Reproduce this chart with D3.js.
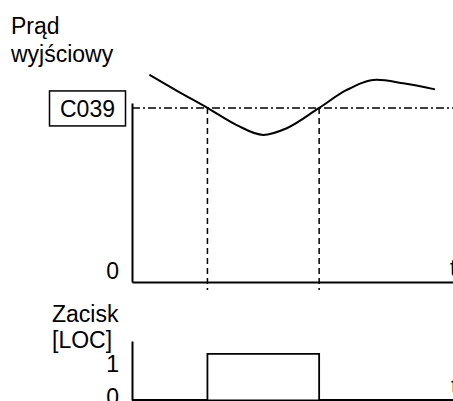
<!DOCTYPE html>
<html>
<head>
<meta charset="utf-8">
<script src="https://cdn.jsdelivr.net/npm/d3@7"></script>
<style>
  html, body { margin: 0; padding: 0; background: #fff; }
  svg { display: block; }
  text { font-family: "Liberation Sans", Arial, sans-serif; font-size: 23px; fill: #000; }
</style>
</head>
<body>
<svg id="chart" width="453" height="401"></svg>
<script>
// Output current over time (t, current) – arbitrary units
const currentT = [0.54, 1.43, 2.35, 3.26, 4.09, 4.82, 5.83, 6.69, 7.62, 8.45, 9.44];
const currentV = [71.4, 65.7, 60.0, 54.1, 50.7, 53.0, 60.0, 66.2, 69.7, 68.5, 66.4];

// Threshold C039 and the moments the current crosses it
const thresholdLabel = "C039";
const thresholdValue = 60;
const crossings = [2.35, 5.83];

// LOC terminal state (step signal)
const locT = [0, 2.35, 5.83, 10];
const locV = [0, 1, 0, 0];

// Tick labels
const topTicks = [0];
const bottomTicks = [0, 1];

const topTitle = ["Prąd", "wyjściowy"];
const bottomTitle = ["Zacisk", "[LOC]"];
const timeLabel = "t";

const svg = d3.select("#chart");

// Scales
const x = d3.scaleLinear().domain([0, 10]).range([132, 453]);
const yTop = d3.scaleLinear().domain([0, 61.7]).range([282, 103]);
const yBot = d3.scaleLinear().domain([0, 1.28]).range([400, 341]);

// ---- Top panel: output current ----
const topAxisY = svg.append("g")
  .attr("transform", `translate(${x(0)},0)`)
  .call(d3.axisLeft(yTop).tickValues(topTicks).tickSize(0).tickSizeOuter(0).tickPadding(13).tickFormat(d3.format("d")));
topAxisY.select(".domain").attr("stroke-width", 2);
topAxisY.selectAll("text").attr("font-size", null).attr("font-family", null).attr("dy", "-3.5px");

const topAxisX = svg.append("g")
  .attr("transform", `translate(0,${yTop(0)})`)
  .call(d3.axisBottom(x).tickValues([]).tickSizeOuter(0));
topAxisX.select(".domain").attr("stroke-width", 2);

// Threshold line (dash-dot)
svg.append("line")
  .attr("x1", x(0)).attr("x2", x(10))
  .attr("y1", yTop(thresholdValue)).attr("y2", yTop(thresholdValue))
  .attr("stroke", "#000").attr("stroke-width", 1.5)
  .attr("stroke-dasharray", "8,3,2,3");

// Threshold label box
const boxG = svg.append("g");
boxG.append("rect")
  .attr("x", 49.5).attr("y", yTop(thresholdValue) - 17)
  .attr("width", 76).attr("height", 35)
  .attr("fill", "none").attr("stroke", "#000").attr("stroke-width", 1.5);
boxG.append("text")
  .attr("x", 87.5).attr("y", yTop(thresholdValue) + 9)
  .attr("text-anchor", "middle")
  .text(thresholdLabel);

// Dashed verticals at crossings
svg.selectAll("line.cross").data(crossings).join("line")
  .attr("class", "cross")
  .attr("x1", d => x(d)).attr("x2", d => x(d))
  .attr("y1", yTop(thresholdValue)).attr("y2", yTop(0) + 8)
  .attr("stroke", "#000").attr("stroke-width", 1.5)
  .attr("stroke-dasharray", "6,4");

// Current curve
const currentData = currentT.map((t, i) => [t, currentV[i]]);
svg.append("path")
  .datum(currentData)
  .attr("fill", "none").attr("stroke", "#000").attr("stroke-width", 2)
  .attr("d", d3.line().x(d => x(d[0])).y(d => yTop(d[1])).curve(d3.curveMonotoneX));

// Titles
svg.append("text").attr("x", 11).attr("y", 34).text(topTitle[0]);
svg.append("text").attr("x", 11).attr("y", 62).text(topTitle[1]);
svg.append("text").attr("x", 450).attr("y", yTop(0) - 6).text(timeLabel);

// ---- Bottom panel: LOC terminal ----
const botAxisY = svg.append("g")
  .attr("transform", `translate(${x(0)},0)`)
  .call(d3.axisLeft(yBot).tickValues(bottomTicks).tickSize(0).tickSizeOuter(0).tickPadding(13).tickFormat(d3.format("d")));
botAxisY.select(".domain").attr("stroke-width", 2);
botAxisY.selectAll("text")
  .attr("font-size", null).attr("font-family", null)
  .attr("dy", d => d === 1 ? "18px" : "4.5px");

const botAxisX = svg.append("g")
  .attr("transform", `translate(0,${yBot(0)})`)
  .call(d3.axisBottom(x).tickValues([]).tickSizeOuter(0));
botAxisX.select(".domain").attr("stroke-width", 2);

const locData = locT.map((t, i) => [t, locV[i]]);
svg.append("path")
  .datum(locData)
  .attr("fill", "none").attr("stroke", "#000").attr("stroke-width", 1.8)
  .attr("d", d3.line().x(d => x(d[0])).y(d => yBot(d[1])).curve(d3.curveStepAfter));

svg.append("text").attr("x", 52).attr("y", 322).text(bottomTitle[0]);
svg.append("text").attr("x", 52).attr("y", 348).text(bottomTitle[1]);
svg.append("text").attr("x", 451).attr("y", yBot(0) - 6).text(timeLabel);
</script>
</body>
</html>
